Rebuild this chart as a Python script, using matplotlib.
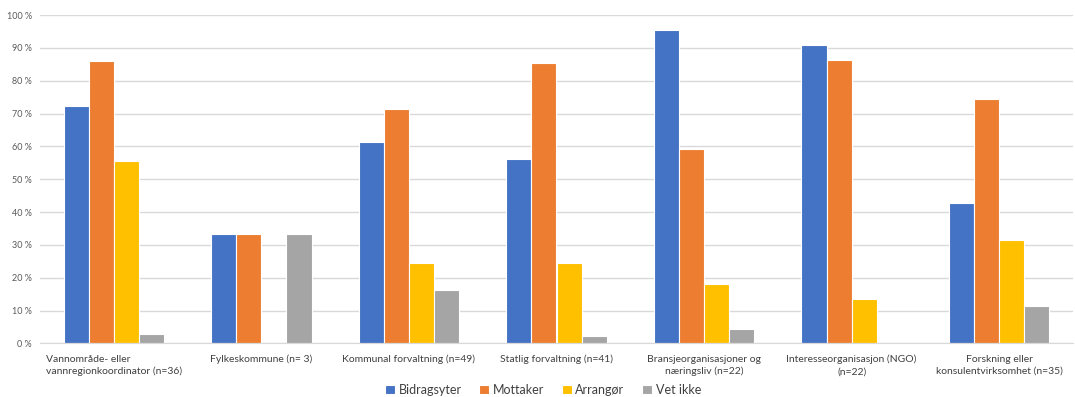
import matplotlib.pyplot as plt
import numpy as np
from matplotlib.ticker import PercentFormatter

kategorier = [
    'Vannområde- eller\nvannregionkoordinator (n=36)',
    'Fylkeskommune (n= 3)',
    'Kommunal forvaltning (n=49)',
    'Statlig forvaltning (n=41)',
    'Bransjeorganisasjoner og\nnæringsliv (n=22)',
    'Interesseorganisasjon (NGO)\n(n=22)',
    'Forskning eller\nkonsulentvirksomhet (n=35)',
]
serier = ['Bidragsyter', 'Mottaker', 'Arrangør', 'Vet ikke']
bidragsyter = [72.2, 33.3, 61.2, 56.1, 95.5, 90.9, 42.9]
mottaker = [86.1, 33.3, 71.4, 85.4, 59.1, 86.4, 74.3]
arrangor = [55.6, 0.0, 24.5, 24.4, 18.2, 13.6, 31.4]
vet_ikke = [2.8, 33.3, 16.3, 2.4, 4.5, 0.0, 11.4]
farger = ['#4472C4', '#ED7D31', '#FFC000', '#A5A5A5']

plt.rcParams['font.family'] = ['Lato', 'DejaVu Sans']

fig = plt.figure(figsize=(10.75, 3.97), dpi=100)
ax = fig.add_axes([40 / 1075, 0.135, 1033 / 1075, 0.827])

x = np.arange(len(kategorier))
bredde = 0.17
for i, (navn, verdier) in enumerate(zip(serier, [bidragsyter, mottaker, arrangor, vet_ikke])):
    ax.bar(x + (i - 1.5) * bredde, verdier, bredde, color=farger[i], label=navn,
           edgecolor='white', linewidth=0.8)

ax.set_xlim(-0.5, len(kategorier) - 0.5)
ax.set_ylim(0, 100)
ax.set_yticks(np.arange(0, 101, 10))
ax.yaxis.set_major_formatter(PercentFormatter(decimals=0, symbol=' %'))
ax.grid(axis='y', color='#D9D9D9', linewidth=1)
ax.set_axisbelow(True)
for s in ['top', 'right', 'left']:
    ax.spines[s].set_visible(False)
ax.spines['bottom'].set_color('#D9D9D9')
ax.tick_params(axis='both', length=0, colors='#595959')
ax.tick_params(axis='y', labelsize=6.5, pad=6)

ax.set_xticks(x)
ax.set_xticklabels(kategorier, fontsize=7.5, color='#404040', linespacing=1.45)
ax.tick_params(axis='x', pad=8)
ax.get_xticklabels()[0].set_multialignment('left')

fig.legend(loc='center', bbox_to_anchor=(0.505, 0.018), ncol=4, frameon=False,
           fontsize=9, handlelength=0.8, handleheight=0.8, handletextpad=0.3,
           columnspacing=1.4, labelcolor='#404040', borderpad=0)

fig.savefig('out.png', dpi=100)
